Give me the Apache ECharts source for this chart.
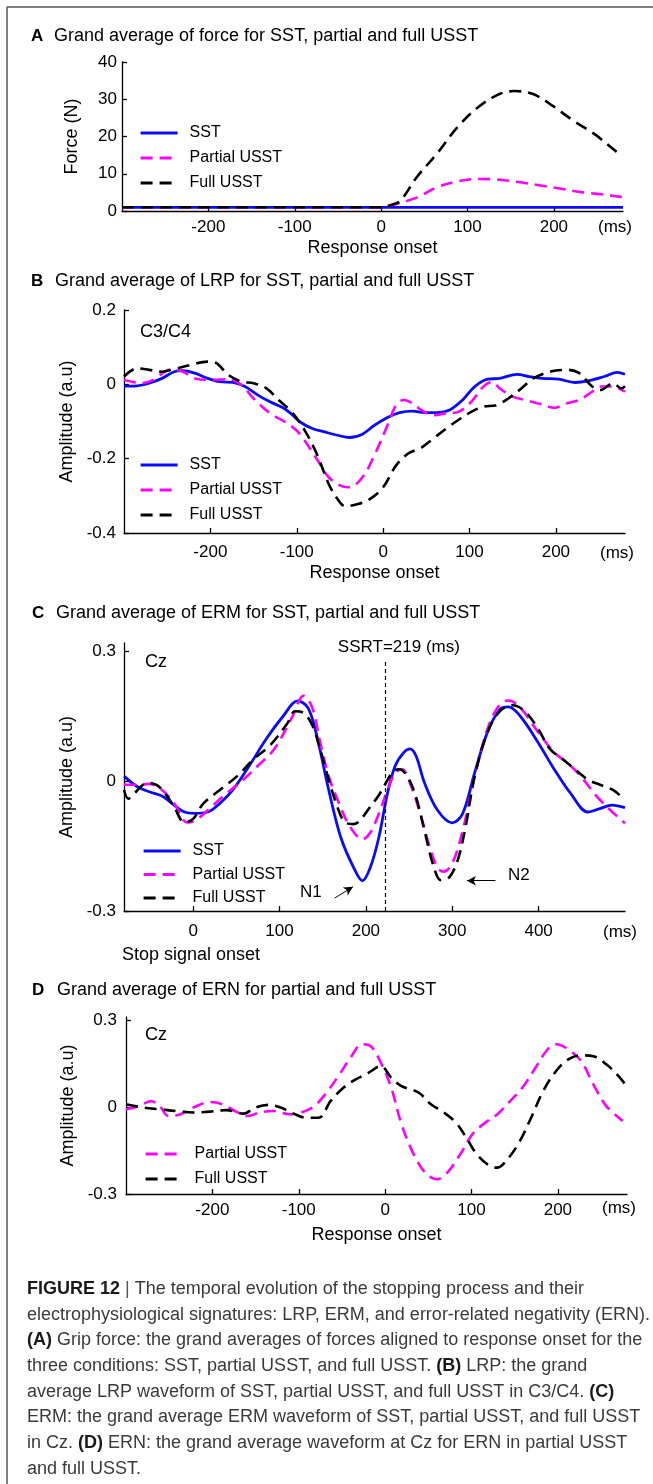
<!DOCTYPE html>
<html>
<head>
<meta charset="utf-8">
<script src="https://cdn.jsdelivr.net/npm/echarts@6/dist/echarts.min.js"></script>
<style>
html,body{margin:0;padding:0;background:#fff;}
#chart{width:653px;height:1484px;}
</style>
</head>
<body>
<div id="chart"></div>
<script>
// ---------- DATA ----------
// Panel A: grip force (N) vs time from response onset (ms)
const aSstT = [-300, -200, -100, 0, 100, 200, 280];
const aSstV = [1, 1, 1, 1, 1, 1, 1];
const aPartT = [-300, -200, -100, 0, 10, 41, 65, 89, 113, 137, 161, 186, 210, 234, 258, 277, 280];
const aPartV = [1, 1, 1, 1, 1.4, 3.6, 6.4, 8, 8.6, 8.4, 7.7, 6.8, 5.9, 5, 4.4, 3.8, 3.7];
const aFullT = [-300, -200, -100, 0, 10, 22, 41, 65, 89, 113, 137, 154, 176, 200, 224, 248, 272, 280];
const aFullV = [1, 1, 1, 1, 1.5, 2.7, 9, 15.5, 22.7, 28, 31.4, 32.2, 31.4, 28, 24, 20.5, 16, 15];

// Panel B: LRP (a.u) C3/C4
const bSstT = [-300,-285,-271,-256,-242,-232,-218,-203,-189,-174,-160,-145,-131,-116,-106,-97,-82,-68,-53,-39,-24,-10,5,19,34,48,63,77,92,106,121,135,155,169,184,203,222,237,256,271,280];
const bSstV = [-0.005,-0.004,0.003,0.016,0.034,0.037,0.03,0.016,0.007,0.005,-0.006,-0.029,-0.047,-0.063,-0.08,-0.1,-0.119,-0.128,-0.137,-0.143,-0.134,-0.11,-0.089,-0.076,-0.072,-0.076,-0.076,-0.069,-0.042,-0.006,0.014,0.016,0.027,0.021,0.016,0.014,0.005,0.009,0.021,0.032,0.027];
const bPartT = [-300,-280,-266,-247,-232,-218,-198,-179,-164,-150,-131,-111,-97,-77,-63,-48,-39,-24,-10,5,15,24,34,44,58,73,87,102,116,126,135,150,164,184,198,213,227,242,252,266,280];
const bPartV = [0.012,0.003,0.012,0.039,0.034,0.016,0.012,0.014,-0.002,-0.038,-0.078,-0.105,-0.132,-0.2,-0.25,-0.274,-0.277,-0.25,-0.19,-0.11,-0.056,-0.042,-0.051,-0.069,-0.083,-0.078,-0.074,-0.047,-0.006,0.007,-0.011,-0.033,-0.042,-0.054,-0.063,-0.051,-0.042,-0.02,-0.006,-0.006,-0.02];
const bFullT = [-300,-285,-271,-256,-242,-223,-203,-193,-179,-164,-150,-135,-121,-106,-92,-77,-63,-53,-44,-29,-15,0,15,29,44,58,73,87,102,116,131,145,160,174,193,213,227,242,252,266,276,280];
const bFullV = [0.021,0.043,0.039,0.034,0.041,0.052,0.061,0.057,0.025,0.007,0.003,-0.011,-0.042,-0.074,-0.119,-0.186,-0.268,-0.308,-0.328,-0.322,-0.308,-0.277,-0.218,-0.186,-0.171,-0.146,-0.119,-0.096,-0.074,-0.06,-0.056,-0.038,-0.011,0.016,0.034,0.039,0.03,-0.006,-0.015,0.003,-0.011,-0.005];

// Panel C: ERM (a.u) Cz, time from stop signal onset (ms)
const cSstT = [-80,-65,-51,-36,-22,-10,2,17,31,46,65,85,104,121,133,143,157,171,186,196,205,215,225,234,244,251,258,268,283,300,312,326,341,355,365,379,399,418,437,457,471,485,500];
const cSstV = [0.012,-0.012,-0.024,-0.034,-0.055,-0.071,-0.074,-0.071,-0.051,-0.02,0.036,0.099,0.15,0.186,0.17,0.107,-0.02,-0.13,-0.2,-0.23,-0.2,-0.13,-0.028,0.036,0.067,0.075,0.059,-0.004,-0.067,-0.096,-0.075,0.02,0.115,0.166,0.172,0.15,0.091,0.028,-0.028,-0.071,-0.063,-0.055,-0.061];
const cPartT = [-80,-65,-51,-36,-22,-7,2,17,36,56,75,94,114,128,138,147,157,169,181,196,205,215,225,234,242,251,263,273,283,290,300,312,326,341,355,365,379,399,418,437,452,466,481,500];
const cPartV = [-0.008,-0.008,-0.006,-0.02,-0.051,-0.095,-0.091,-0.067,-0.032,0,0.036,0.075,0.146,0.198,0.17,0.091,0.012,-0.051,-0.103,-0.134,-0.119,-0.075,-0.02,0.02,0.028,-0.004,-0.075,-0.146,-0.2,-0.209,-0.19,-0.115,0.012,0.122,0.178,0.187,0.17,0.115,0.067,0.036,0.004,-0.032,-0.063,-0.097];
const cFullT = [-80,-75,-68,-58,-51,-41,-31,-22,-10,0,12,31,51,70,89,109,118,128,138,147,157,167,176,186,193,205,215,222,232,239,249,258,268,278,287,297,307,316,326,341,355,370,384,399,413,428,442,457,471,486,500];
const cFullV = [-0.02,-0.04,-0.028,-0.008,-0.004,-0.01,-0.032,-0.059,-0.095,-0.087,-0.051,-0.02,0.012,0.051,0.083,0.134,0.162,0.158,0.13,0.075,0.004,-0.059,-0.095,-0.099,-0.091,-0.059,-0.032,-0.008,0.024,0.028,0.008,-0.036,-0.115,-0.194,-0.229,-0.221,-0.178,-0.099,0.012,0.115,0.162,0.176,0.162,0.123,0.075,0.051,0.028,0.004,-0.008,-0.02,-0.043];
const ssrtValue = 219;          // SSRT (ms) as printed
const ssrtLineX = 222;          // where the dashed SSRT line sits
const ssrtLineTop = 0.28;
const n1Arrow = [[164, -0.270], [185, -0.244]];
const n2Arrow = [[350, -0.230], [317, -0.230]];

// Panel D: ERN (a.u) Cz
const dPartT = [-300,-285,-271,-261,-251,-237,-222,-203,-188,-174,-159,-145,-130,-111,-97,-82,-68,-53,-39,-27,-17,-5,7,19,34,48,60,72,87,101,116,130,145,159,174,188,198,212,227,241,256,275];
const dPartV = [-0.008,0.003,0.02,0.003,-0.031,-0.025,-0.002,0.017,0.009,-0.014,-0.031,-0.019,-0.014,-0.025,-0.019,0.003,0.049,0.112,0.175,0.216,0.21,0.153,0.067,-0.06,-0.169,-0.232,-0.249,-0.226,-0.163,-0.094,-0.054,-0.025,0.021,0.067,0.135,0.198,0.216,0.198,0.158,0.078,0.003,-0.048];
const dFullT = [-300,-280,-261,-242,-222,-203,-184,-164,-150,-135,-121,-106,-92,-77,-63,-48,-34,-19,-5,7,19,39,53,68,82,94,106,121,130,140,155,169,183,198,212,227,241,256,270,280];
const dFullV = [0.009,-0.002,-0.008,-0.014,-0.019,-0.016,-0.011,-0.023,-0.002,0.007,-0.002,-0.023,-0.037,-0.037,0.021,0.067,0.095,0.118,0.141,0.101,0.072,0.049,0.009,-0.019,-0.054,-0.106,-0.163,-0.203,-0.209,-0.186,-0.123,-0.037,0.055,0.124,0.164,0.178,0.175,0.147,0.107,0.070];

// Tick labels
const respTicks = [-200, -100, 0, 100, 200];
const stopTicks = [0, 100, 200, 300, 400];
const forceTicks = [0, 10, 20, 30, 40];
const lrpTicks = [-0.4, -0.2, 0, 0.2];
const ermTicks = [-0.3, 0, 0.3];
const ernTicks = [-0.3, 0, 0.3];

const titles = [
  'Grand average of force for SST, partial and full USST',
  'Grand average of LRP for SST, partial and full USST',
  'Grand average of ERM for SST, partial and full USST',
  'Grand average of ERN for partial and full USST'
];
const captionLines = [
  '{b|FIGURE 12} {g||} The temporal evolution of the stopping process and their',
  'electrophysiological signatures: LRP, ERM, and error-related negativity (ERN).',
  '{b|(A)} Grip force: the grand averages of forces aligned to response onset for the',
  'three conditions: SST, partial USST, and full USST. {b|(B)} LRP: the grand',
  'average LRP waveform of SST, partial USST, and full USST in C3/C4. {b|(C)}',
  'ERM: the grand average ERM waveform of SST, partial USST, and full USST',
  'in Cz. {b|(D)} ERN: the grand average waveform at Cz for ERN in partial USST',
  'and full USST.'
];

// ---------- CHART ----------
const FONT = "'Liberation Sans', Arial, Helvetica, sans-serif";
const BLUE = '#0a0aff', MAG = '#ff00ff', BLK = '#000000';
const DASH = [12, 7];
const pairs = (t, v) => t.map((x, i) => [x, v[i]]);
const fmtNum = v => (Math.abs(v) < 1e-9 ? '0' : String(Math.round(v * 100) / 100));

const grids = [
  {left: 122, top: 62, width: 501, height: 149},
  {left: 124, top: 310, width: 501, height: 223},
  {left: 124, top: 643, width: 501, height: 268},
  {left: 126, top: 1017, width: 501, height: 177}
];

function xAxis(i, min, max, ticks, margin, name, nameGap) {
  return {
    type: 'value', gridIndex: i, min, max,
    axisLine: {show: true, onZero: false, lineStyle: {color: '#000', width: 1.3}},
    axisTick: {show: true, inside: true, length: 5, customValues: ticks, lineStyle: {color: '#000', width: 1.3}},
    axisLabel: {show: true, customValues: ticks, margin, fontSize: 17, color: '#000', fontFamily: FONT, formatter: fmtNum},
    splitLine: {show: false},
    name: name || '', nameLocation: 'middle', nameGap: nameGap || 0,
    nameTextStyle: {fontSize: 18, color: '#000', fontFamily: FONT}
  };
}
function yAxis(i, min, max, ticks, margin, name, nameGap) {
  return {
    type: 'value', gridIndex: i, min, max,
    axisLine: {show: true, onZero: false, lineStyle: {color: '#000', width: 1.3}},
    axisTick: {show: true, inside: true, length: 5, customValues: ticks, lineStyle: {color: '#000', width: 1.3}},
    axisLabel: {show: true, customValues: ticks, margin, fontSize: 17, color: '#000', fontFamily: FONT, formatter: fmtNum},
    splitLine: {show: false},
    name, nameLocation: 'middle', nameGap, nameRotate: 90,
    nameTextStyle: {fontSize: 18, color: '#000', fontFamily: FONT}
  };
}
function line(name, i, t, v, color, dashed, extra) {
  return Object.assign({
    type: 'line', name, xAxisIndex: i, yAxisIndex: i,
    data: pairs(t, v), symbol: 'none', smooth: 0.35, silent: true,
    lineStyle: {color, width: dashed ? 2.6 : 2.8, type: dashed ? DASH : 'solid'},
    itemStyle: {color}, z: dashed ? 3 : 2
  }, extra || {});
}
function legend(left, top, names, gap) {
  return {
    left, top, orient: 'vertical', selectedMode: false,
    itemWidth: 37, itemHeight: 14, itemGap: gap,
    itemStyle: {opacity: 0},
    lineStyle: {width: 3.2},
    data: names,
    textStyle: {fontSize: 16, lineHeight: 16, color: '#000', fontFamily: FONT, padding: [0, 0, 0, 7]}
  };
}

const graphic = [];
// frame
graphic.push({type: 'line', shape: {x1: 7, y1: 7, x2: 653, y2: 7}, style: {stroke: '#555', lineWidth: 1.5}});
graphic.push({type: 'line', shape: {x1: 7, y1: 7, x2: 7, y2: 1484}, style: {stroke: '#555', lineWidth: 1.5}});
// panel titles
const letterPos = [[31, 36], [31, 281], [32, 613], [32, 990]];
const titleX = [54, 55, 56, 57];
['A', 'B', 'C', 'D'].forEach((L, k) => {
  graphic.push({type: 'text', x: letterPos[k][0], y: letterPos[k][1],
    style: {text: L, font: 'bold 17px ' + FONT, fill: '#000', verticalAlign: 'middle'}});
  graphic.push({type: 'text', x: titleX[k], y: letterPos[k][1],
    style: {text: titles[k], font: '18px ' + FONT, fill: '#000', verticalAlign: 'middle'}});
});
// in-plot labels
const txt = (s, x, y, size, align) => graphic.push({type: 'text', x, y,
  style: {text: s, font: (size || 17) + 'px ' + FONT, fill: '#000', verticalAlign: 'middle', align: align || 'left'}});
txt('C3/C4', 140, 332, 18);
txt('Cz', 145, 662, 18);
txt('Cz', 145, 1035, 18);
txt('(ms)', 615, 227, 17, 'center');
txt('(ms)', 617, 553, 17, 'center');
txt('(ms)', 620, 932, 17, 'center');
txt('(ms)', 619, 1208, 17, 'center');
txt('Stop signal onset', 122, 955, 18);
txt('N1', 300, 892, 17);
txt('N2', 508, 875, 17);
// caption
captionLines.forEach((s, k) => {
  graphic.push({type: 'text', x: 27, y: 1289 + k * 25.7, style: {
    text: s, font: '18px ' + FONT, fill: '#3a3a3a', verticalAlign: 'middle',
    rich: {
      b: {fontWeight: 'bold', fontSize: 18, fontFamily: FONT, fill: '#1a1a1a', color: '#1a1a1a'},
      g: {fontSize: 18, fontFamily: FONT, fill: '#555', color: '#555'}
    }
  }});
});

const option = {
  animation: false,
  backgroundColor: '#fff',
  grid: grids,
  xAxis: [
    xAxis(0, -300, 280, respTicks, 8, 'Response onset', 28),
    xAxis(1, -300, 280, respTicks, 11, 'Response onset', 31),
    xAxis(2, -80, 500, stopTicks, 12),
    xAxis(3, -300, 280, respTicks, 8, 'Response onset', 32)
  ],
  yAxis: [
    yAxis(0, 0, 40, forceTicks, 5, 'Force (N)', 41),
    yAxis(1, -0.4, 0.2, lrpTicks, 8, 'Amplitude (a.u)', 46),
    yAxis(2, -0.3, 0.32, ermTicks, 8, 'Amplitude (a.u)', 46),
    yAxis(3, -0.3, 0.31, ernTicks, 9, 'Amplitude (a.u)', 48)
  ],
  legend: [
    legend(134, 120, ['SST', 'Partial USST', 'Full USST'], 9),
    legend(134, 452, ['SST', 'Partial USST', 'Full USST'], 9),
    legend(137, 838, ['SST', 'Partial USST', 'Full USST'], 7.5),
    legend(139, 1141, ['Partial USST', 'Full USST'], 9)
  ],
  series: [
    line('SST', 0, aSstT, aSstV, BLUE, false),
    line('Partial USST', 0, aPartT, aPartV, MAG, true),
    line('Full USST', 0, aFullT, aFullV, BLK, true),
    line('SST', 1, bSstT, bSstV, BLUE, false),
    line('Partial USST', 1, bPartT, bPartV, MAG, true),
    line('Full USST', 1, bFullT, bFullV, BLK, true),
    line('SST', 2, cSstT, cSstV, BLUE, false, {
      markLine: {
        silent: true, animation: false, symbol: 'none',
        data: [
          [{coord: [ssrtLineX, -0.3], symbol: 'none'},
           {coord: [ssrtLineX, ssrtLineTop], symbol: 'none',
            label: {show: true, position: 'end', formatter: 'SSRT=' + ssrtValue + ' (ms)', offset: [14, 0], distance: 4,
                    fontSize: 17, color: '#000', fontFamily: FONT}}],
          [{coord: n1Arrow[0], symbol: 'none', lineStyle: {type: 'solid', width: 1}},
           {coord: n1Arrow[1], symbol: 'arrow', symbolSize: [7, 9]}],
          [{coord: n2Arrow[0], symbol: 'none', lineStyle: {type: 'solid', width: 1}},
           {coord: n2Arrow[1], symbol: 'arrow', symbolSize: [7, 9]}]
        ],
        lineStyle: {color: '#000', width: 1.2, type: [4, 3]},
        label: {show: false}
      }
    }),
    line('Partial USST', 2, cPartT, cPartV, MAG, true),
    line('Full USST', 2, cFullT, cFullV, BLK, true),
    line('Partial USST', 3, dPartT, dPartV, MAG, true),
    line('Full USST', 3, dFullT, dFullV, BLK, true)
  ],
  graphic
};

const chart = echarts.init(document.getElementById('chart'), null, {renderer: 'canvas'});
chart.setOption(option);
</script>
</body>
</html>
